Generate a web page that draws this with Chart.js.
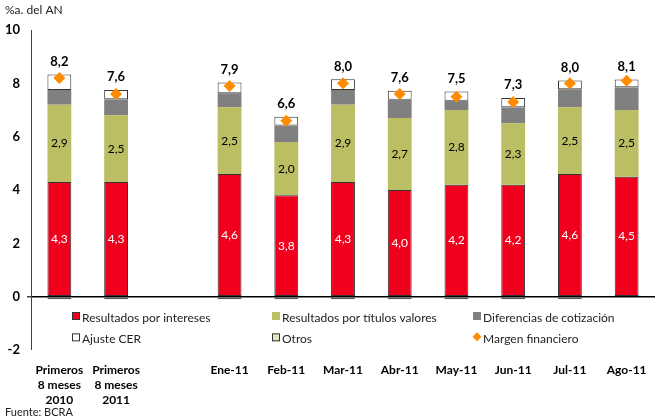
<!DOCTYPE html>
<html>
<head>
<meta charset="utf-8">
<script src="https://cdn.jsdelivr.net/npm/chart.js@4.4.1/dist/chart.umd.min.js"></script>
<style>
  html, body { margin: 0; padding: 0; background: #fff; }
  #wrap { width: 661px; height: 418px; position: relative; }
</style>
</head>
<body>
<div id="wrap"><canvas id="chart-margen"></canvas></div>
<script>
const categories = [
  ["Primeros", "8 meses", "2010"],
  ["Primeros", "8 meses", "2011"],
  "",
  "Ene-11", "Feb-11", "Mar-11", "Abr-11", "May-11", "Jun-11", "Jul-11", "Ago-11",
];
const intereses   = [4.3, 4.3, null, 4.6, 3.8, 4.3, 4.0, 4.2, 4.2, 4.6, 4.5];
const titulos     = [2.9, 2.5, null, 2.5, 2.0, 2.9, 2.7, 2.8, 2.3, 2.5, 2.5];
const diferencias = [0.55, 0.6, null, 0.53, 0.62, 0.55, 0.68, 0.35, 0.6, 0.68, 0.85];
const ajusteCER   = [0.58, 0.35, null, 0.4, 0.33, 0.4, 0.34, 0.34, 0.35, 0.33, 0.29];
const otros       = [-0.1, -0.1, null, -0.1, -0.1, -0.1, -0.1, -0.1, -0.1, -0.1, 0];
const margen      = [8.2, 7.6, null, 7.9, 6.6, 8.0, 7.6, 7.5, 7.3, 8.0, 8.1];

const colors = {
  red: "#F0001C",
  olive: "#BBBE62",
  grey: "#808080",
  white: "#FFFFFF",
  otros: "#E6E6BE",
  orange: "#FF8C00",
};

const FONT = "Lato, 'DejaVu Sans', sans-serif";

function fmt(v) {
  return v.toFixed(1).replace(".", ",");
}

// etiquetas de valores y totales
const labelsPlugin = {
  id: "labelsPlugin",
  afterDatasetsDraw(chart) {
    const ctx = chart.ctx;
    ctx.save();
    ctx.textAlign = "center";
    ctx.textBaseline = "middle";
    [[0, "#fff"], [1, "#000"]].forEach(([di, col]) => {
      const meta = chart.getDatasetMeta(di);
      ctx.fillStyle = col;
      ctx.font = "12px " + FONT;
      meta.data.forEach((bar, i) => {
        const v = chart.data.datasets[di].data[i];
        if (v == null) return;
        ctx.fillText(fmt(v), bar.x, (bar.y + bar.base) / 2);
      });
    });
    const top = chart.getDatasetMeta(3);
    ctx.fillStyle = "#000";
    ctx.font = "bold 13px " + FONT;
    top.data.forEach((bar, i) => {
      const v = margen[i];
      if (v == null) return;
      ctx.fillText(fmt(v), bar.x, bar.y - 13);
    });
    ctx.restore();
  },
};

// leyenda dentro del area del grafico, y textos de titulo y fuente
const legendPlugin = {
  id: "legendPlugin",
  afterDraw(chart) {
    const ctx = chart.ctx;
    const area = chart.chartArea;
    const y = chart.scales.y;
    const rows = [y.getPixelForValue(-0.8), y.getPixelForValue(-1.6)];
    const cols = [area.left + 41, area.left + 241, area.left + 442];
    const items = [
      { text: "Resultados por intereses", fill: colors.red, stroke: "#333" },
      { text: "Resultados por títulos valores", fill: colors.olive, stroke: colors.olive },
      { text: "Diferencias de cotización", fill: colors.grey, stroke: colors.grey },
      { text: "Ajuste CER", fill: colors.white, stroke: "#333" },
      { text: "Otros", fill: colors.otros, stroke: "#333" },
      { text: "Margen financiero", fill: colors.orange, diamond: true },
    ];
    ctx.save();
    ctx.font = "12px " + FONT;
    ctx.textBaseline = "middle";
    ctx.textAlign = "left";
    items.forEach((it, k) => {
      const x = cols[k % 3];
      const yy = rows[Math.floor(k / 3)];
      if (it.diamond) {
        ctx.fillStyle = it.fill;
        ctx.beginPath();
        ctx.moveTo(x + 4, yy - 7);
        ctx.lineTo(x + 8.5, yy - 2.5);
        ctx.lineTo(x + 4, yy + 2);
        ctx.lineTo(x - 0.5, yy - 2.5);
        ctx.closePath();
        ctx.fill();
      } else {
        ctx.fillStyle = it.fill;
        ctx.fillRect(x, yy - 6, 8, 8);
        ctx.strokeStyle = it.stroke;
        ctx.lineWidth = 1;
        ctx.strokeRect(x + 0.5, yy - 5.5, 7, 7);
      }
      ctx.fillStyle = "#222";
      ctx.fillText(it.text, x + 10, yy);
    });

    ctx.font = "12px " + FONT;
    ctx.fillStyle = "#222";
    ctx.fillText("%a. del AN", 5, 10);
    ctx.font = "11px " + FONT;
    ctx.fillText("Fuente: BCRA", 5, 412);
    ctx.restore();
  },
};

function renderChartMargen() {
  const barBase = {
    type: "bar",
    stack: "s",
    borderSkipped: false,
  };

  const chartData = [
    { ...barBase, label: "Resultados por intereses", data: intereses,
      backgroundColor: colors.red, borderColor: "#333", borderWidth: 1 },
    { ...barBase, label: "Resultados por títulos valores", data: titulos,
      backgroundColor: colors.olive, borderWidth: 0 },
    { ...barBase, label: "Diferencias de cotización", data: diferencias,
      backgroundColor: colors.grey, borderWidth: 0 },
    { ...barBase, label: "Ajuste CER", data: ajusteCER,
      backgroundColor: colors.white, borderColor: "#333", borderWidth: 1 },
    { ...barBase, label: "Otros", data: otros,
      backgroundColor: colors.otros, borderColor: "#555", borderWidth: 1 },
    {
      type: "line",
      label: "Margen financiero",
      data: margen,
      stack: "m",
      order: -1,
      showLine: false,
      pointStyle: "rectRot",
      pointRadius: 6,
      backgroundColor: colors.orange,
      borderColor: colors.orange,
      borderWidth: 0,
    },
  ];

  const config = {
    type: "bar",
    data: {
      labels: categories,
      datasets: chartData,
    },
    plugins: [labelsPlugin, legendPlugin],
    options: {
      responsive: true,
      maintainAspectRatio: false,
      animation: false,
      datasets: {
        bar: { categoryPercentage: 1, barPercentage: 0.42 },
      },
      layout: { padding: { top: 30, right: -4, bottom: 0, left: 0 } },
      plugins: {
        legend: { display: false },
        tooltip: { enabled: false },
      },
      scales: {
        x: {
          stacked: true,
          grid: { display: false, drawTicks: false },
          border: { display: false },
          ticks: {
            color: "#000",
            font: { family: FONT, size: 12, weight: "bold", lineHeight: 1.28 },
            padding: 12,
            maxRotation: 0,
            autoSkip: false,
          },
          afterFit(scale) { scale.height = 68; },
        },
        y: {
          stacked: true,
          min: -2,
          max: 10,
          ticks: {
            stepSize: 2,
            color: "#000",
            padding: 7,
            font: { family: FONT, size: 13, weight: "bold" },
          },
          grid: {
            color: (c) => (c.tick && c.tick.value === 0 ? "#000" : "rgba(0,0,0,0)"),
            lineWidth: (c) => (c.tick && c.tick.value === 0 ? 1.5 : 0),
            tickColor: "#444",
            tickLength: 4,
          },
          border: { display: true, color: "#444", width: 1 },
          afterFit(scale) { scale.width = 31; },
        },
      },
    },
  };

  const myChart = new Chart(document.getElementById("chart-margen"), config);
}

renderChartMargen();
</script>
</body>
</html>
